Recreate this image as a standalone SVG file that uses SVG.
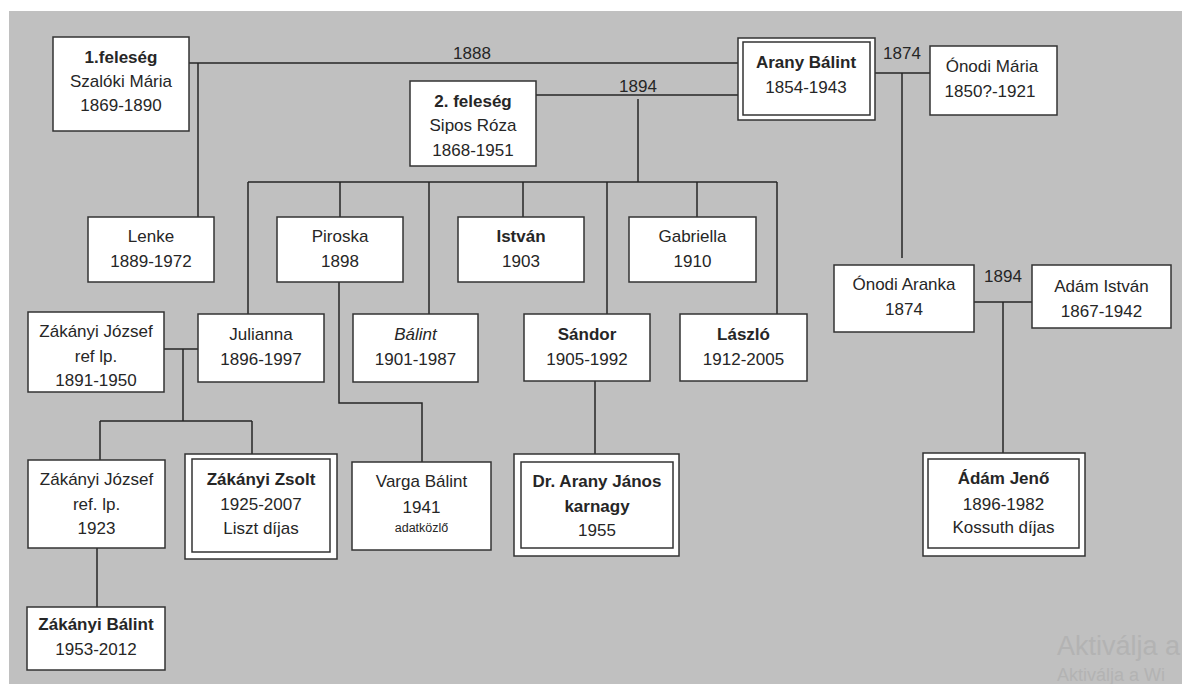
<svg xmlns="http://www.w3.org/2000/svg" width="1182" height="684" viewBox="0 0 1182 684">
<style>
text{font-family:"Liberation Sans",Arial,sans-serif;font-size:17px;fill:#262626;text-anchor:middle}
.b{font-weight:bold}
.i{font-style:italic}
.s{font-size:12.5px}
.box{fill:#fff;stroke:#333;stroke-width:1.5}
.ln{stroke:#262626;stroke-width:1.5;fill:none}
.wm{fill:#b3b3b3;text-anchor:start}
</style>
<rect x="0" y="0" width="1182" height="684" fill="#fff"/>
<rect x="9" y="11" width="1173" height="673" fill="#c0c0c0"/>

<g id="connectors">
<path class="ln" d="M189 63H738"/>
<path class="ln" d="M198 63V217"/>
<path class="ln" d="M536 95H738"/>
<path class="ln" d="M638 99V182"/>
<path class="ln" d="M248 182H777"/>
<path class="ln" d="M248 182V314M340 182V217M429 182V314M523 182V217M607 182V314M697 182V217M777 182V314"/>
<path class="ln" d="M875 73H930"/>
<path class="ln" d="M902 73V258"/>
<path class="ln" d="M164 349H198"/>
<path class="ln" d="M183 349V421"/>
<path class="ln" d="M100 421H252"/>
<path class="ln" d="M100 421V460M252 421V454"/>
<path class="ln" d="M339 282V403H422V462"/>
<path class="ln" d="M595 381V454"/>
<path class="ln" d="M974 302H1032"/>
<path class="ln" d="M1003 302V459"/>
<path class="ln" d="M97 548V607"/>
</g>

<g id="labels">
<text x="472" y="59">1888</text>
<text x="638" y="92">1894</text>
<text x="902" y="59">1874</text>
<text x="1003" y="282">1894</text>
</g>

<g id="n-feleseg1">
<rect class="box" x="53" y="37" width="136" height="94"/>
<text class="b" x="121" y="63">1.feleség</text>
<text x="121" y="87">Szalóki Mária</text>
<text x="121" y="111">1869-1890</text>
</g>

<g id="n-feleseg2">
<rect class="box" x="410" y="81" width="126" height="85"/>
<text class="b" x="473" y="107">2. feleség</text>
<text x="473" y="131">Sipos Róza</text>
<text x="473" y="156">1868-1951</text>
</g>

<g id="n-arany-balint">
<rect class="box" x="738" y="38" width="137" height="82"/>
<rect class="box" x="743" y="42" width="127" height="73"/>
<text class="b" x="806" y="68">Arany Bálint</text>
<text x="806" y="93">1854-1943</text>
</g>

<g id="n-onodi-maria">
<rect class="box" x="930" y="46" width="127" height="69"/>
<text x="992" y="72">Ónodi Mária</text>
<text x="990" y="97">1850?-1921</text>
</g>

<g id="n-lenke">
<rect class="box" x="88" y="217" width="126" height="65"/>
<text x="151" y="242">Lenke</text>
<text x="151" y="267">1889-1972</text>
</g>

<g id="n-piroska">
<rect class="box" x="277" y="217" width="126" height="65"/>
<text x="340" y="242">Piroska</text>
<text x="340" y="267">1898</text>
</g>

<g id="n-istvan">
<rect class="box" x="458" y="217" width="126" height="65"/>
<text class="b" x="521" y="242">István</text>
<text x="521" y="267">1903</text>
</g>

<g id="n-gabriella">
<rect class="box" x="629" y="217" width="127" height="65"/>
<text x="692.5" y="242">Gabriella</text>
<text x="692.5" y="267">1910</text>
</g>

<g id="n-zakanyi-jozsef-1891">
<rect class="box" x="28" y="312" width="136" height="80"/>
<text x="96" y="337">Zákányi József</text>
<text x="96" y="362">ref lp.</text>
<text x="96" y="386">1891-1950</text>
</g>

<g id="n-julianna">
<rect class="box" x="198" y="314" width="126" height="68"/>
<text x="261" y="340">Julianna</text>
<text x="261" y="365">1896-1997</text>
</g>

<g id="n-balint">
<rect class="box" x="353" y="314" width="125" height="68"/>
<text class="i" x="415.5" y="340">Bálint</text>
<text x="415.5" y="365">1901-1987</text>
</g>

<g id="n-sandor">
<rect class="box" x="524" y="314" width="126" height="67"/>
<text class="b" x="587" y="340">Sándor</text>
<text x="587" y="365">1905-1992</text>
</g>

<g id="n-laszlo">
<rect class="box" x="680" y="314" width="127" height="67"/>
<text class="b" x="743.5" y="340">László</text>
<text x="743.5" y="365">1912-2005</text>
</g>

<g id="n-onodi-aranka">
<rect class="box" x="834" y="265" width="140" height="67"/>
<text x="904" y="290">Ónodi Aranka</text>
<text x="904" y="315">1874</text>
</g>

<g id="n-adam-istvan">
<rect class="box" x="1032" y="265" width="139" height="63"/>
<text x="1101.5" y="292">Adám István</text>
<text x="1101.5" y="317">1867-1942</text>
</g>

<g id="n-zakanyi-jozsef-1923">
<rect class="box" x="28" y="460" width="137" height="88"/>
<text x="96.5" y="485">Zákányi József</text>
<text x="96.5" y="510">ref. lp.</text>
<text x="96.5" y="534">1923</text>
</g>

<g id="n-zakanyi-zsolt">
<rect class="box" x="185" y="454" width="152" height="105"/>
<rect class="box" x="192" y="459" width="138" height="93"/>
<text class="b" x="261" y="485">Zákányi Zsolt</text>
<text x="261" y="510">1925-2007</text>
<text x="261" y="534">Liszt díjas</text>
</g>

<g id="n-varga-balint">
<rect class="box" x="352" y="462" width="139" height="88"/>
<text x="421.5" y="487">Varga Bálint</text>
<text x="421.5" y="513">1941</text>
<text class="s" x="421.5" y="532">adatközlő</text>
</g>

<g id="n-arany-janos">
<rect class="box" x="514" y="454" width="165" height="102"/>
<rect class="box" x="521" y="462" width="152" height="86"/>
<text class="b" x="597" y="487">Dr. Arany János</text>
<text class="b" x="597" y="512">karnagy</text>
<text x="597" y="536">1955</text>
</g>

<g id="n-adam-jeno">
<rect class="box" x="923" y="453" width="162" height="103"/>
<rect class="box" x="928" y="459" width="151" height="89"/>
<text class="b" x="1003.5" y="484">Ádám Jenő</text>
<text x="1003.5" y="510">1896-1982</text>
<text x="1003.5" y="533">Kossuth díjas</text>
</g>

<g id="n-zakanyi-balint">
<rect class="box" x="27" y="607" width="138" height="63"/>
<text class="b" x="96" y="630">Zákányi Bálint</text>
<text x="96" y="655">1953-2012</text>
</g>

<g id="watermark">
<text class="wm" x="1057" y="655" style="font-size:27px">Aktiválja a</text>
<text class="wm" x="1057" y="681" style="font-size:18px">Aktiválja a Wi</text>
</g>
</svg>
